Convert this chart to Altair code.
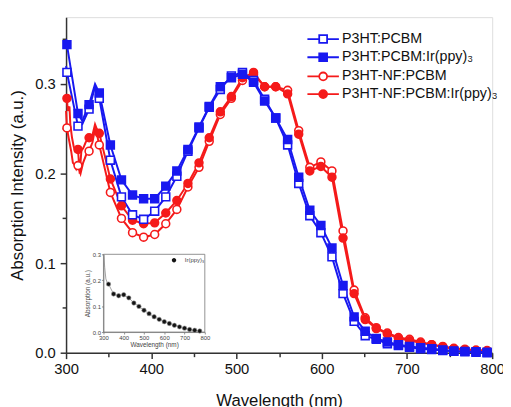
import altair as alt
import pandas as pd

# ---------------- data ----------------
series_names = ["P3HT:PCBM", "P3HT:PCBM:Ir(ppy)₃", "P3HT-NF:PCBM", "P3HT-NF:PCBM:Ir(ppy)₃"]
series_colors = ["#1818f0", "#1818f0", "#f51a1a", "#f51a1a"]
series_fills = ["white", "#1818f0", "white", "#f51a1a"]
series_shapes = ["square", "square", "circle", "circle"]

marker_wl = [301, 314, 327, 339, 352, 365, 378, 391, 404, 417, 430, 443, 456, 468, 481,
             494, 507, 520, 533, 546, 560, 573, 586, 599, 612, 625, 638, 651, 664, 677,
             690, 703, 716, 729, 742, 755, 768, 781, 794]

p3ht_pcbm = [0.313, 0.253, 0.272, 0.284, 0.215, 0.174, 0.154, 0.149, 0.158, 0.174, 0.197,
             0.225, 0.251, 0.274, 0.294, 0.309, 0.313, 0.304, 0.283, 0.262, 0.232, 0.189,
             0.153, 0.134, 0.107, 0.066, 0.035, 0.019, 0.015, 0.010, 0.008, 0.006, 0.0045,
             0.0035, 0.0025, 0.0015, 0.001, 0.0005, 0.0]
p3ht_pcbm_ir = [0.344, 0.267, 0.277, 0.290, 0.232, 0.193, 0.176, 0.172, 0.172, 0.186, 0.203,
                0.227, 0.252, 0.275, 0.297, 0.307, 0.311, 0.302, 0.281, 0.262, 0.238, 0.196,
                0.159, 0.142, 0.117, 0.075, 0.040, 0.024, 0.016, 0.012, 0.009, 0.007, 0.0055,
                0.0045, 0.003, 0.002, 0.0015, 0.001, 0.0005]
nf_pcbm = [0.251, 0.209, 0.225, 0.232, 0.179, 0.150, 0.134, 0.129, 0.132, 0.144, 0.160,
           0.185, 0.207, 0.236, 0.266, 0.284, 0.304, 0.311, 0.297, 0.297, 0.293, 0.248,
           0.207, 0.213, 0.203, 0.136, 0.070, 0.039, 0.028, 0.022, 0.017, 0.015, 0.012,
           0.009, 0.007, 0.005, 0.004, 0.003, 0.0025]
nf_pcbm_ir = [0.284, 0.227, 0.240, 0.245, 0.194, 0.164, 0.148, 0.144, 0.145, 0.156, 0.170,
              0.189, 0.212, 0.240, 0.269, 0.286, 0.307, 0.313, 0.297, 0.297, 0.289, 0.244,
              0.203, 0.208, 0.196, 0.128, 0.066, 0.037, 0.027, 0.021, 0.016, 0.0135, 0.011,
              0.009, 0.0063, 0.0045, 0.003, 0.002, 0.002]

# extra line-only points (fine spectral structure between markers)
extra_wl = {
    "P3HT:PCBM": [300, 319, 334],
    "P3HT:PCBM:Ir(ppy)₃": [300, 319, 334],
    "P3HT-NF:PCBM": [300, 303, 306, 308, 310, 312, 317, 320, 324, 331, 334, 336],
    "P3HT-NF:PCBM:Ir(ppy)₃": [300, 302, 304, 305, 307, 309, 311, 316, 318, 320, 323, 331, 334, 336],
}
extra_val = {
    "P3HT:PCBM": [0.320, 0.255, 0.297],
    "P3HT:PCBM:Ir(ppy)₃": [0.350, 0.259, 0.300],
    "P3HT-NF:PCBM": [0.270, 0.240, 0.225, 0.212, 0.210, 0.205, 0.200, 0.212, 0.222, 0.235, 0.250, 0.245],
    "P3HT-NF:PCBM:Ir(ppy)₃": [0.285, 0.270, 0.275, 0.255, 0.240, 0.230, 0.225, 0.200, 0.226, 0.228, 0.235, 0.243, 0.255, 0.250],
}

# inset: Ir(ppy)3 absorption
inset_label = "Ir(ppy)₃"
inset_marker_wl = [325, 350, 375, 400, 425, 450, 475, 500, 525, 550, 575, 600, 625, 650,
                   675, 700, 725, 750, 775]
inset_marker_val = [0.185, 0.147, 0.140, 0.144, 0.132, 0.112, 0.099, 0.084, 0.071, 0.059,
                    0.049, 0.040, 0.033, 0.026, 0.020, 0.015, 0.010, 0.007, 0.004]
inset_extra_wl = [302, 306, 312, 318]
inset_extra_val = [0.300, 0.250, 0.205, 0.192]

x_ticks = [300, 400, 500, 600, 700, 800]
x_minor = [350, 450, 550, 650, 750]
y_ticks = [0.0, 0.1, 0.2, 0.3]
y_minor = [0.05, 0.15, 0.25, 0.35]

# ---------------- tables ----------------
rows = []
for name, vals in zip(series_names, [p3ht_pcbm, p3ht_pcbm_ir, nf_pcbm, nf_pcbm_ir]):
    for w, v in zip(marker_wl, vals):
        rows.append({"series": name, "wl": w, "val": v, "marker": True})
    for w, v in zip(extra_wl[name], extra_val[name]):
        rows.append({"series": name, "wl": w, "val": v, "marker": False})
df = pd.DataFrame(rows).sort_values(["series", "wl"])

irows = [{"wl": w, "val": v, "marker": True, "label": inset_label}
         for w, v in zip(inset_marker_wl, inset_marker_val)]
irows += [{"wl": w, "val": v, "marker": False, "label": inset_label}
          for w, v in zip(inset_extra_wl, inset_extra_val)]
idf = pd.DataFrame(irows).sort_values("wl")

FONT = "Liberation Sans"
AX = "#333333"

xscale = alt.Scale(domain=[300, 800], nice=False, zero=False)
yscale = alt.Scale(domain=[0, 0.3747], nice=False, zero=False)

X = alt.X("wl:Q", scale=xscale, axis=alt.Axis(
    values=x_ticks, title="Wavelength (nm)", orient="bottom", grid=False,
    tickSize=6, tickWidth=1.5, tickColor=AX, domainColor=AX, domainWidth=1.5,
    labelFontSize=15, labelPadding=3, labelColor="#111", labelFont=FONT,
    titleFontSize=17, titleFont=FONT, titleFontWeight="normal", titleColor="#111",
    titlePadding=17, labelFlush=False))
Y = alt.Y("val:Q", scale=yscale, axis=alt.Axis(
    values=y_ticks, format=".1f", title="Absorption Intensity (a.u.)", orient="left",
    grid=False, tickSize=6, tickWidth=1.5, tickColor=AX, domainColor=AX, domainWidth=1.5,
    labelFontSize=15, labelPadding=5, labelColor="#111", labelFont=FONT,
    titleFontSize=17, titleFont=FONT, titleFontWeight="normal", titleColor="#111",
    titlePadding=8, labelFlush=False))

base = alt.Chart(df)
color_enc = alt.Color("series:N", scale=alt.Scale(domain=series_names, range=series_colors), legend=None)

lines = base.mark_line(strokeWidth=2).encode(x=X, y=Y, color=color_enc, detail="series:N")

mk = base.transform_filter("datum.marker")
markers = mk.mark_point(size=64, strokeWidth=1.6, opacity=1, filled=False).encode(
    x=X, y=Y,
    stroke=alt.Stroke("series:N", scale=alt.Scale(domain=series_names, range=series_colors), legend=None),
    fill=alt.Fill("series:N", scale=alt.Scale(domain=series_names, range=series_fills), legend=None),
    shape=alt.Shape("series:N", scale=alt.Scale(domain=series_names, range=series_shapes), legend=None),
    detail="series:N",
)

# one invisible legend-carrying layer per series: symbol = line segment + marker
sq_path = "M-4,0H-1M1,0H4M-1,-1H1V1H-1Z"
ci_path = "M-4,0H-1M1,0H4M-1,0A1,1,0,1,1,1,0A1,1,0,1,1,-1,0Z"
legend_paths = [sq_path, sq_path, ci_path, ci_path]
legend_y = [15, 33.5, 53, 71]
legend_layers = []
for name, col, fil, pth, ly in zip(series_names, series_colors, series_fills, legend_paths, legend_y):
    lg = alt.Legend(title="", orient="none", legendX=254, legendY=ly,
                    labelFontSize=14.5, labelFont=FONT, labelColor="#111", labelLimit=300,
                    labelOffset=12, padding=0, symbolSize=64, symbolStrokeWidth=1.8,
                    symbolOpacity=1, titlePadding=0)
    legend_layers.append(
        mk.transform_filter(alt.datum.series == name).mark_point(
            size=64, strokeWidth=1.8, opacity=0, filled=False
        ).encode(
            x=X, y=Y,
            stroke=alt.Stroke("series:N", scale=alt.Scale(domain=[name], range=[col]), legend=lg),
            fill=alt.Fill("series:N", scale=alt.Scale(domain=[name], range=[fil]), legend=lg),
            shape=alt.Shape("series:N", scale=alt.Scale(domain=[name], range=[pth]), legend=lg),
        )
    )

main_inner = alt.layer(lines, markers, *legend_layers).resolve_scale(
    shape="independent", stroke="independent", fill="independent")

minor = base.transform_filter("false").mark_line().encode(
    x=alt.X("wl:Q", scale=xscale, axis=alt.Axis(values=x_minor, orient="bottom", labels=False,
                                                domain=False, grid=False, tickSize=4, tickWidth=1.5,
                                                tickColor=AX, title="")),
    y=alt.Y("val:Q", scale=yscale, axis=alt.Axis(values=y_minor, orient="left", labels=False,
                                                 domain=False, grid=False, tickSize=4, tickWidth=1.5,
                                                 tickColor=AX, title="")),
)

main = alt.layer(main_inner, minor).resolve_axis(x="independent", y="independent")

# ---------------- inset ----------------
ixscale = alt.Scale(domain=[300, 800], nice=False, zero=False, range=[38, 141])
iyscale = alt.Scale(domain=[0, 0.3], nice=False, zero=False, range=[320, 241])
IG = "#777777"
IX = alt.X("wl:Q", scale=ixscale, axis=alt.Axis(
    values=x_ticks, orient="bottom", offset=-21, grid=False, tickSize=2, tickColor=IG,
    domainColor=IG, domainWidth=0.8, tickWidth=0.8, labelFontSize=6, labelPadding=1,
    labelColor="#444", labelFont=FONT, title="Wavelength (nm)", titleFontSize=6.5,
    titleFont=FONT, titleFontWeight="normal", titleColor="#444", titlePadding=1,
    labelFlush=False))
IY = alt.Y("val:Q", scale=iyscale, axis=alt.Axis(
    values=y_ticks, format=".1f", orient="left", offset=-38, grid=False, tickSize=2,
    tickColor=IG, domainColor=IG, domainWidth=0.8, tickWidth=0.8, labelFontSize=6,
    labelPadding=1, labelColor="#444", labelFont=FONT, title="Absorption (a.u.)",
    titleFontSize=6.5, titleFont=FONT, titleFontWeight="normal", titleColor="#444",
    titlePadding=2, labelFlush=False))

ibase = alt.Chart(idf)
iframe = ibase.transform_aggregate(n="count()").mark_rect(
    fill="white", fillOpacity=0, stroke=IG, strokeWidth=0.8).encode(
    x=alt.X(datum=300, scale=ixscale),
    x2=alt.datum(800),
    y=alt.Y(datum=0, scale=iyscale),
    y2=alt.datum(0.3),
)
iline = ibase.mark_line(color="#8a8a8a", strokeWidth=0.8).encode(x=IX, y=IY)
ileg = alt.Legend(title="", orient="none", legendX=106.7, legendY=244, labelFontSize=6,
                  labelFont=FONT, labelColor="#444", labelOffset=8, padding=0,
                  symbolType="M-3.8,0H-1M1,0H3.8M-1,0A1,1,0,1,1,1,0A1,1,0,1,1,-1,0Z",
                  symbolSize=20, symbolFillColor="#141414",
                  symbolStrokeColor="#888", symbolStrokeWidth=0.8, titlePadding=0)
ipoints = ibase.transform_filter("datum.marker").mark_point(
    filled=True, color="#141414", stroke="#999999", strokeWidth=0.6, size=20
).encode(x=IX, y=IY,
         opacity=alt.Opacity("label:N", scale=alt.Scale(domain=[inset_label], range=[1]), legend=ileg))

inset = alt.layer(iframe, iline, ipoints)

chart = alt.layer(main, inset).resolve_scale(x="independent", y="independent").properties(
    width=433, height=341, autosize="none",
    padding={"left": 59, "top": 6, "right": 11, "bottom": 60},
).configure_view(stroke=AX, strokeWidth=1.5).configure(font=FONT)

chart.save("out.html", embed_options={"renderer": "svg", "actions": False})
